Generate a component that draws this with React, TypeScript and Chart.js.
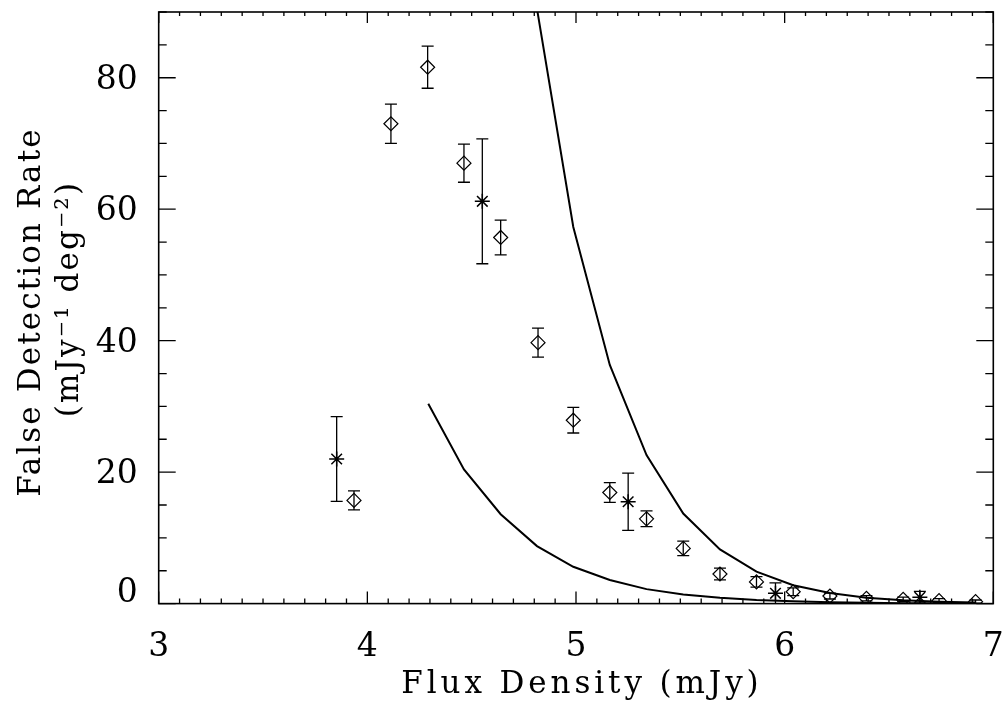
import React, { useEffect, useRef } from 'react';
import { Chart, registerables } from 'chart.js';

Chart.register(...registerables);

// Diamond points (measured false detection rate) with 1-sigma errors
const diamondX = [3.936, 4.113, 4.289, 4.463, 4.639, 4.818, 4.987, 5.162, 5.338, 5.514, 5.690, 5.865, 6.041, 6.217, 6.392, 6.568, 6.740, 6.915];
const diamondY = [15.7, 73.0, 81.6, 67.0, 55.7, 39.7, 27.9, 16.9, 12.9, 8.4, 4.5, 3.3, 1.8, 1.15, 0.8, 0.65, 0.45, 0.3];
const diamondErr = [1.45, 3.0, 3.2, 2.9, 2.65, 2.2, 1.95, 1.5, 1.2, 1.1, 0.9, 0.8, 0.6, 0.45, 0.4, 0.35, 0.3, 0.25];

// Asterisk points with errors
const starX = [3.853, 4.551, 5.250, 5.956, 6.648];
const starY = [22.0, 61.2, 15.5, 1.56, 0.95];
const starErr = [6.45, 9.5, 4.35, 1.6, 0.9];

// Model curves
const upperX = [4.813, 4.987, 5.162, 5.338, 5.514, 5.690, 5.865, 6.041, 6.217, 6.392, 6.568, 6.740, 6.915];
const upperY = [90.5, 57.3, 36.3, 22.6, 13.7, 8.25, 4.85, 2.8, 1.6, 0.9, 0.5, 0.3, 0.15];
const lowerX = [4.292, 4.463, 4.639, 4.813, 4.987, 5.162, 5.338, 5.514, 5.690, 5.865, 6.041, 6.217, 6.392, 6.568, 6.740, 6.915];
const lowerY = [30.4, 20.4, 13.6, 8.75, 5.6, 3.6, 2.2, 1.4, 0.9, 0.55, 0.35, 0.2, 0.12, 0.07, 0.04, 0.02];

const xTicks = [3, 4, 5, 6, 7];
const yTicks = [0, 20, 40, 60, 80];
const xMinorStep = 0.1;
const yMinorStep = 5;

const xTitle = 'Flux Density (mJy)';
const yTitle = ['False Detection Rate', '(mJy⁻¹ deg⁻²)'];

const FONT = "'DejaVu Serif', serif";

const pairs = (xs: number[], ys: number[]) => xs.map((x, i) => ({ x, y: ys[i] }));

const errorBarPlugin = {
  id: 'errorBars',
  beforeDatasetsDraw(chart: any) {
    const { ctx, chartArea: a, scales } = chart;
    const xs = scales.x, ys = scales.y;
    ctx.save();
    ctx.beginPath();
    ctx.rect(a.left, a.top, a.right - a.left, a.bottom - a.top);
    ctx.clip();
    ctx.strokeStyle = '#000';
    ctx.lineWidth = 1.3;
    const draw = (X: number[], Y: number[], E: number[]) => {
      for (let i = 0; i < X.length; i++) {
        const px = xs.getPixelForValue(X[i]);
        const top = ys.getPixelForValue(Y[i] + E[i]);
        const bot = ys.getPixelForValue(Y[i] - E[i]);
        ctx.beginPath();
        ctx.moveTo(px, top);
        ctx.lineTo(px, bot);
        ctx.moveTo(px - 6, top);
        ctx.lineTo(px + 6, top);
        ctx.moveTo(px - 6, bot);
        ctx.lineTo(px + 6, bot);
        ctx.stroke();
      }
    };
    draw(diamondX, diamondY, diamondErr);
    draw(starX, starY, starErr);
    ctx.restore();
  },
};

const framePlugin = {
  id: 'frame',
  afterDraw(chart: any) {
    const { ctx, chartArea: a, scales } = chart;
    const xs = scales.x, ys = scales.y;
    ctx.save();
    ctx.strokeStyle = '#000';
    ctx.lineWidth = 1.6;
    ctx.strokeRect(a.left, a.top, a.right - a.left, a.bottom - a.top);
    ctx.lineWidth = 1.3;
    ctx.beginPath();
    const xMin = xs.min, xMax = xs.max;
    const nx = Math.round((xMax - xMin) / xMinorStep);
    for (let k = 0; k <= nx; k++) {
      const v = xMin + k * xMinorStep;
      const major = xTicks.some((t) => Math.abs(t - v) < 1e-6);
      const px = xs.getPixelForValue(v);
      const lb = major ? 12 : 5;
      const lt = major ? 11 : 4;
      ctx.moveTo(px, a.bottom);
      ctx.lineTo(px, a.bottom - lb);
      ctx.moveTo(px, a.top);
      ctx.lineTo(px, a.top + lt);
    }
    const yMin = ys.min, yMax = ys.max;
    const ny = Math.round((yMax - yMin) / yMinorStep);
    for (let k = 0; k <= ny; k++) {
      const v = yMin + k * yMinorStep;
      const major = yTicks.some((t) => Math.abs(t - v) < 1e-6);
      const py = ys.getPixelForValue(v);
      const l = major ? 17 : 8;
      ctx.moveTo(a.left, py);
      ctx.lineTo(a.left + l, py);
      ctx.moveTo(a.right, py);
      ctx.lineTo(a.right - l, py);
    }
    ctx.stroke();

    // Axis titles (drawn with letter spacing to match the wide lettering)
    ctx.fillStyle = '#000';
    ctx.font = `31px ${FONT}`;
    ctx.textBaseline = 'alphabetic';
    ctx.textAlign = 'center';
    // x title
    const xs1 = 3.9;
    (ctx as any).letterSpacing = `${xs1}px`;
    const cx = (a.left + a.right) / 2 + 4 + xs1 / 2;
    ctx.fillText(xTitle, cx, 693);
    // y title
    const ys1 = 2.1;
    (ctx as any).letterSpacing = `${ys1}px`;
    ctx.save();
    ctx.translate(40, 311 + ys1 / 2);
    ctx.rotate(-Math.PI / 2);
    ctx.fillText(yTitle[0], 0, 0);
    ctx.restore();
    ctx.save();
    ctx.translate(78, 298 + ys1 / 2);
    ctx.rotate(-Math.PI / 2);
    ctx.fillText(yTitle[1], 0, 0);
    ctx.restore();
    (ctx as any).letterSpacing = '0px';
    ctx.restore();
  },
};

export default function App() {
  const canvasRef = useRef<HTMLCanvasElement | null>(null);

  useEffect(() => {
    const canvas = canvasRef.current;
    if (!canvas) return;
    const chart = new Chart(canvas, {
      type: 'scatter',
      data: {
        datasets: [
          {
            type: 'line',
            data: pairs(upperX, upperY),
            borderColor: '#000',
            borderWidth: 2,
            pointRadius: 0,
            tension: 0,
            fill: false,
          },
          {
            type: 'line',
            data: pairs(lowerX, lowerY),
            borderColor: '#000',
            borderWidth: 2,
            pointRadius: 0,
            tension: 0,
            fill: false,
          },
          {
            data: pairs(diamondX, diamondY),
            pointStyle: 'rectRot',
            pointRadius: 7,
            borderColor: '#000',
            backgroundColor: 'rgba(0,0,0,0)',
            borderWidth: 1.2,
          },
          {
            data: pairs(starX, starY),
            pointStyle: 'star',
            pointRadius: 7.5,
            borderColor: '#000',
            backgroundColor: 'rgba(0,0,0,0)',
            borderWidth: 1.5,
          },
        ],
      } as any,
      options: {
        animation: false,
        responsive: true,
        maintainAspectRatio: false,
        layout: { padding: { top: 12, right: 14.7, left: 0, bottom: 0 } },
        plugins: { legend: { display: false }, tooltip: { enabled: false } },
        scales: {
          x: {
            type: 'linear',
            min: 3,
            max: 7,
            grid: { display: false },
            border: { display: false },
            afterBuildTicks: (s: any) => {
              s.ticks = xTicks.map((v) => ({ value: v }));
            },
            afterFit: (s: any) => {
              s.height = 105.4;
              s.paddingLeft = 0;
              s.paddingRight = 0;
            },
            ticks: {
              font: { family: FONT, size: 33 },
              color: '#000',
              padding: 16,
              maxRotation: 0,
              autoSkip: false,
              callback: (v: any) => String(v),
            },
            title: { display: false },
          },
          y: {
            type: 'linear',
            min: 0,
            max: 90,
            grid: { display: false },
            border: { display: false },
            afterBuildTicks: (s: any) => {
              s.ticks = yTicks.map((v) => ({ value: v }));
            },
            afterFit: (s: any) => {
              s.width = 158.7;
              s.paddingTop = 0;
              s.paddingBottom = 0;
            },
            ticks: {
              font: { family: FONT, size: 33, lineHeight: 0.75 },
              color: '#000',
              padding: 13,
              labelOffset: 2.5,
              autoSkip: false,
              callback: (v: any) => (v === 0 ? ['0', ''] : String(v)),
            },
            title: { display: false },
          },
        },
      } as any,
      plugins: [errorBarPlugin, framePlugin],
    });
    return () => chart.destroy();
  }, []);

  return (
    <div style={{ position: 'fixed', left: 0, top: 0, width: 1008, height: 709, background: '#fff' }}>
      <canvas ref={canvasRef} />
    </div>
  );
}
